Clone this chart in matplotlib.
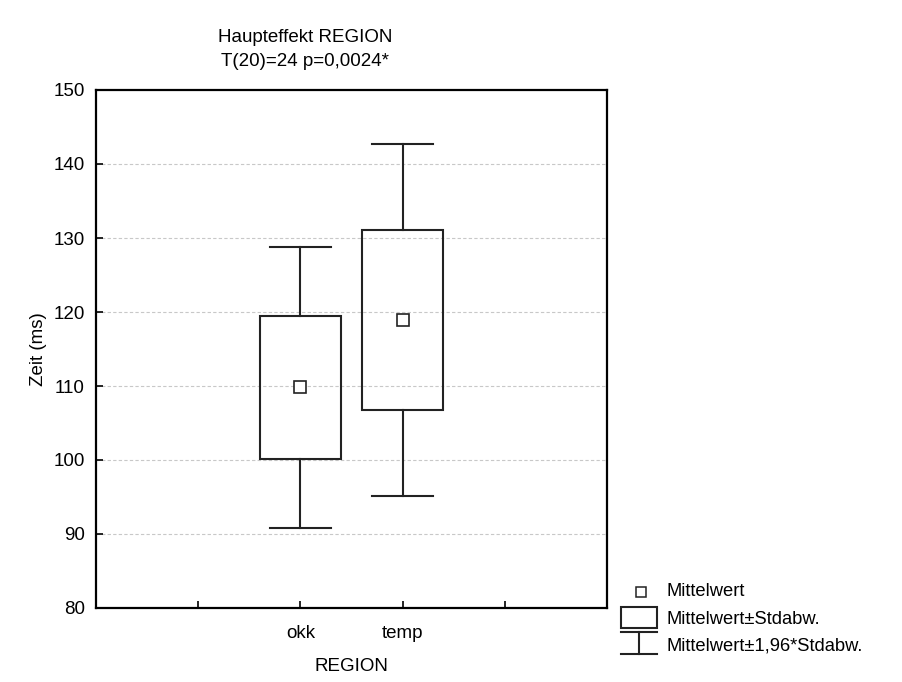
import numpy as np
import matplotlib.pyplot as plt
from matplotlib.patches import Rectangle

plt.rcParams['font.family'] = ['Liberation Sans', 'DejaVu Sans']
plt.rcParams['font.size'] = 13.5

# data
categories = ['okk', 'temp']
means = [109.8, 118.9]
sds = [9.7, 12.15]
positions = [2, 3]

fig = plt.figure(figsize=(9.02, 6.82), dpi=100)
W, H = 902, 682
ax = fig.add_axes([96 / W, 1 - 608 / H, (607 - 96) / W, (608 - 90) / H])

ax.set_xlim(0, 5)
ax.set_ylim(80, 150)
ax.set_yticks(np.arange(80, 151, 10))
ax.set_xticks([1, 2, 3, 4])
ax.set_xticklabels(['', 'okk', 'temp', ''])
ax.tick_params(axis='x', direction='in', length=5, width=1.2, pad=12)
ax.tick_params(axis='y', direction='in', length=5, width=1.2, pad=8)
for s in ax.spines.values():
    s.set_linewidth(1.6)
for y in range(90, 150, 10):
    ax.axhline(y, color='#c8c8c8', lw=0.8, ls=(0, (3, 2)), zorder=0)

col = '#222222'
for x, m, sd in zip(positions, means, sds):
    lo, hi = m - sd, m + sd
    wlo, whi = m - 1.96 * sd, m + 1.96 * sd
    ax.add_patch(Rectangle((x - 0.4, lo), 0.8, hi - lo, fill=False,
                           ec=col, lw=1.5, zorder=3))
    ax.plot([x, x], [hi, whi], color=col, lw=1.5, zorder=3)
    ax.plot([x, x], [wlo, lo], color=col, lw=1.5, zorder=3)
    ax.plot([x - 0.3, x + 0.3], [whi, whi], color=col, lw=1.5, zorder=3)
    ax.plot([x - 0.3, x + 0.3], [wlo, wlo], color=col, lw=1.5, zorder=3)
    ax.plot(x, m, marker='s', ms=8, mfc='white', mec=col, mew=1.2, zorder=4)

ax.set_ylabel('Zeit (ms)', labelpad=5)
ax.set_xlabel('REGION', labelpad=12)
fig.text(305 / W, 1 - 38 / H, 'Haupteffekt REGION', ha='center', va='center')
fig.text(305 / W, 1 - 62 / H, 'T(20)=24 p=0,0024*', ha='center', va='center')

# legend drawn in pixel coordinates
lg = fig.add_axes([0, 0, 1, 1], facecolor='none')
lg.set_xlim(0, W)
lg.set_ylim(H, 0)
lg.axis('off')
lg.plot(640.5, 592, marker='s', ms=7, mfc='white', mec=col, mew=1.1)
lg.add_patch(Rectangle((621, 607), 36, 21, fill=False, ec=col, lw=1.5))
lg.plot([621, 657], [632, 632], color=col, lw=1.5)
lg.plot([621, 657], [654, 654], color=col, lw=1.5)
lg.plot([639, 639], [632, 654], color=col, lw=1.5)
for yy, t in zip([592, 619, 646], ['Mittelwert', 'Mittelwert±Stdabw.',
                                   'Mittelwert±1,96*Stdabw.']):
    lg.text(667, yy, t, va='center', ha='left', fontsize=13.2)

fig.savefig('out.png', dpi=100)
